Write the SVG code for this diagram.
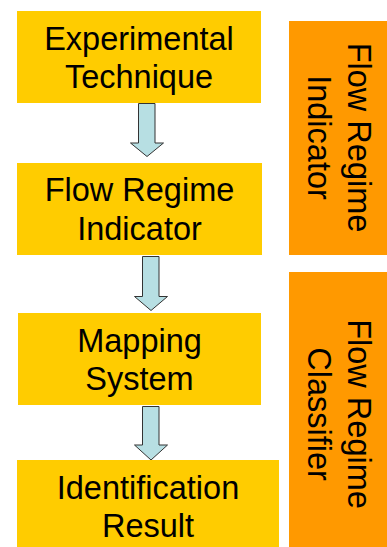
<svg xmlns="http://www.w3.org/2000/svg" width="387" height="547" viewBox="0 0 387 547">
<style>
.box{fill:#FFCC00}
.side{fill:#FF9900}
.t{font-family:"Liberation Sans",Arial,sans-serif;font-size:32.5px;fill:#000;text-anchor:middle}
.arr{fill:#B7DFE3;stroke:#333;stroke-width:1}
</style>
<rect width="387" height="547" fill="#fff"/>
<g id="connectors">
<path class="arr" d="M138.5,103.5 H155 V143 H163.5 L147,156.5 L130.5,143 H138.5 Z"/>
<path class="arr" d="M142.5,256.5 H159 V296.5 H167.5 L151,310.5 L134.5,296.5 H142.5 Z"/>
<path class="arr" d="M142.5,406.5 H159 V445 H167.5 L151,460 L134.5,445 H142.5 Z"/>
</g>
<g id="experimental-technique">
<rect class="box" x="17" y="11" width="244" height="92"/>
<text class="t" x="139" y="50">Experimental</text>
<text class="t" x="139" y="88">Technique</text>
</g>
<g id="flow-regime-indicator">
<rect class="box" x="17" y="163" width="245" height="92"/>
<text class="t" x="139.5" y="201">Flow Regime</text>
<text class="t" x="139.5" y="240">Indicator</text>
</g>
<g id="mapping-system">
<rect class="box" x="18" y="313" width="243" height="92"/>
<text class="t" x="139.5" y="352">Mapping</text>
<text class="t" x="139.5" y="390">System</text>
</g>
<g id="identification-result">
<rect class="box" x="17" y="460" width="262" height="87"/>
<text class="t" x="148" y="499">Identification</text>
<text class="t" x="148" y="537">Result</text>
</g>
<g id="side-indicator">
<rect class="side" x="289" y="21" width="98" height="234"/>
<text class="t" transform="translate(348,137.5) rotate(90)">Flow Regime</text>
<text class="t" transform="translate(308,137.5) rotate(90)">Indicator</text>
</g>
<g id="side-classifier">
<rect class="side" x="289" y="272" width="98" height="275"/>
<text class="t" transform="translate(348,414) rotate(90)">Flow Regime</text>
<text class="t" transform="translate(308,414) rotate(90)">Classifier</text>
</g>
</svg>
